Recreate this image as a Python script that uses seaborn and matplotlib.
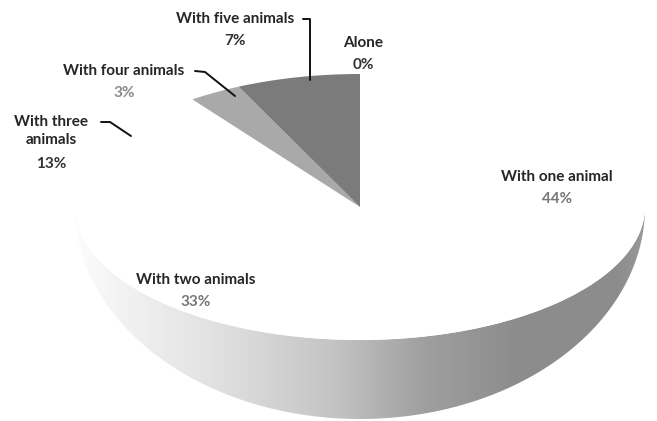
import numpy as np
import matplotlib
matplotlib.use("Agg")
import matplotlib.pyplot as plt
import matplotlib.transforms as mtransforms
import seaborn as sns

# Data
labels = ["Alone", "With one animal", "With two animals", "With three\nanimals",
          "With four animals", "With five animals"]
shares = [0, 44, 33, 13, 3, 7]
pct_text = ["0%", "44%", "33%", "13%", "3%", "7%"]

sns.set_theme(style="white")
plt.rcParams['font.family'] = ['Lato', 'DejaVu Sans']

W, H = 657, 421
fig = plt.figure(figsize=(W / 100, H / 100), dpi=100)
ax = fig.add_axes([0, 0, 1, 1])

# ellipse geometry in pixels (tilted pie)
cx, cy, a, b, depth = 360, 207, 285, 133, 79

slice_colors = ["#ffffff", "#ffffff", "#ffffff", "#ffffff", "#a9a9a9", "#7b7b7b"]

# side of the pie (gradient band below the front edge)
t = np.linspace(np.pi, 2 * np.pi, 300)
k = 1 + depth / b
xs = np.concatenate([np.cos(t), np.cos(t[::-1])])
ys = np.concatenate([np.sin(t), k * np.sin(t[::-1])])
side = plt.Polygon(np.column_stack([xs, ys]), closed=True, facecolor="none",
                   edgecolor="none")
ax.add_patch(side)
gx = np.linspace(0, 1, 256)
stops_x = [0.0, 0.08, 0.25, 0.45, 0.62, 0.78, 0.95, 1.0]
stops_v = [0.99, 0.95, 0.88, 0.77, 0.62, 0.55, 0.55, 0.6]
g = np.interp(gx, stops_x, stops_v)
img = np.dstack([g, g, g])
im = ax.imshow(img, extent=(-1, 1, -k, 0), aspect="auto", zorder=1,
               interpolation="bilinear")
im.set_clip_path(side)

# top face
wedges, _ = ax.pie(shares, colors=slice_colors, startangle=90, counterclock=False,
                   radius=1, center=(0, 0), frame=True,
                   wedgeprops=dict(linewidth=0, zorder=2))
for w in wedges:
    w.set_zorder(2)

ax.set_aspect("auto")
ax.set_xlim((0 - cx) / a, (W - cx) / a)
ax.set_ylim((cy - H) / b, cy / b)
ax.axis("off")

# pixel transform (origin top-left) for labels
px = mtransforms.Affine2D().scale(1 / W, -1 / H).translate(0, 1) + fig.transFigure

name_col = "#262626"
fs = 11

def put(x, y, name, pct, pc):
    ax.text(x, y, name, transform=px, ha="center", va="center", fontsize=fs,
            color=name_col, linespacing=1.45, fontweight="bold")
    nlines = name.count("\n") + 1
    ax.text(x, y + 11 * nlines + 11, pct, transform=px, ha="center",
            va="center", fontsize=fs, color=pc, fontweight="bold")

put(235, 19, labels[5], pct_text[5], "#333333")
put(363, 43, labels[0], pct_text[0], "#333333")
put(124, 71, labels[4], pct_text[4], "#8a8a8a")
put(51, 131, labels[3], pct_text[3], "#333333")
put(557, 177, labels[1], pct_text[1], "#777777")
put(196, 280, labels[2], pct_text[2], "#777777")

# leader lines
lk = dict(color="#111111", lw=1.4, transform=px, zorder=5)
ax.plot([303, 310, 310], [19, 19, 80], **lk)
ax.plot([195, 205, 235], [71, 72, 96], **lk)
ax.plot([101, 110, 131], [122, 122, 136], **lk)

fig.savefig("out.png", dpi=100, facecolor="white")
